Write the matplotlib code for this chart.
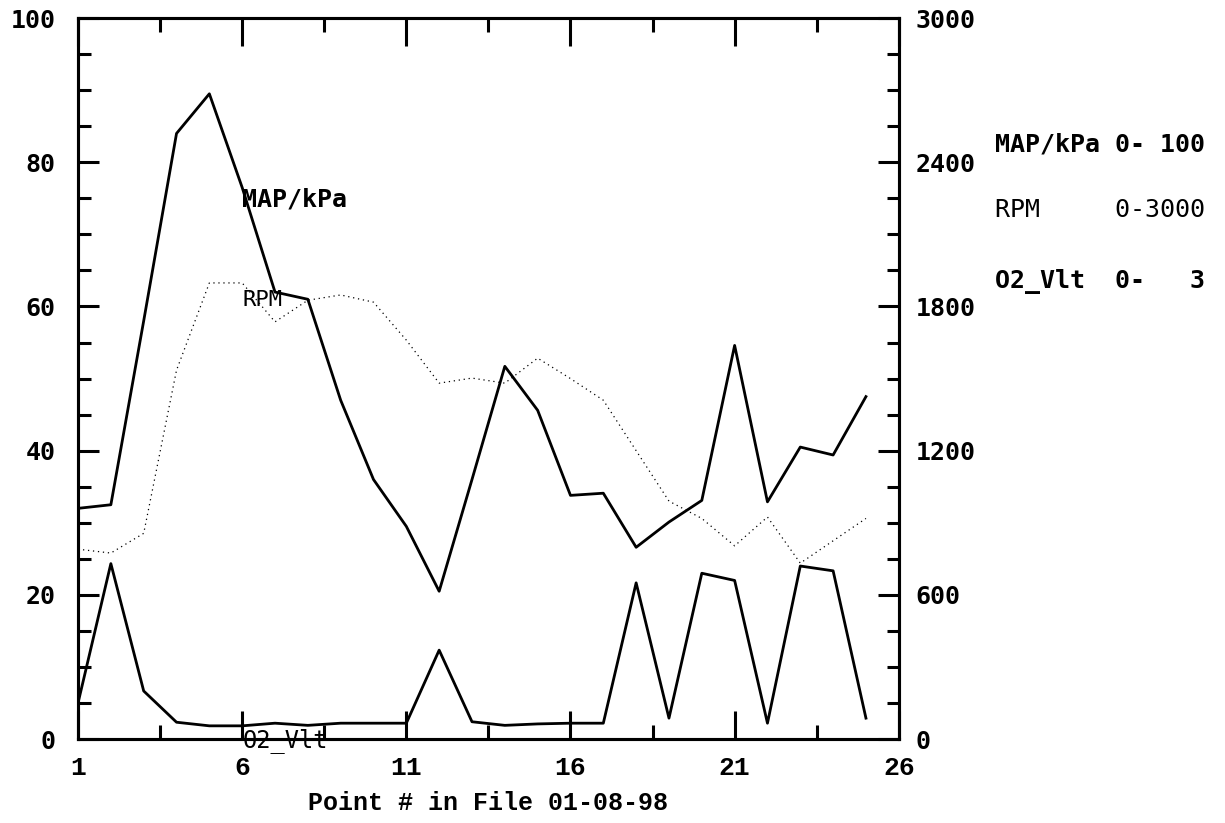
import numpy as np
import matplotlib
matplotlib.use("Agg")
import matplotlib.pyplot as plt
from matplotlib.ticker import MultipleLocator, FixedLocator

# point numbers in the log file
points = list(range(1, 26))

# manifold pressure, kPa (left scale 0-100)
map_kpa = [32, 32.5, 58, 84, 89.5, 76.5, 62, 61, 47, 36, 29.5, 20.5, 36,
           51.7, 45.6, 33.8, 34.1, 26.6, 30.1, 33.1, 54.6, 32.9, 40.5, 39.4, 47.5]

# engine speed, rpm (right scale 0-3000)
rpm = [790, 774, 856, 1535, 1898, 1898, 1736, 1826, 1848, 1818, 1660, 1481, 1502,
       1481, 1585, 1500, 1410, 1200, 990, 918, 804, 924, 732, 825, 918]

# oxygen sensor, volts (scale 0-3)
o2_vlt = [0.15, 0.73, 0.20, 0.07, 0.055, 0.055, 0.066, 0.057, 0.066, 0.066, 0.066,
          0.37, 0.072, 0.057, 0.063, 0.066, 0.066, 0.65, 0.087, 0.69, 0.66, 0.066,
          0.72, 0.70, 0.087]

legend_rows = ["MAP/kPa 0- 100", "RPM     0-3000", "O2_Vlt  0-   3"]

mono = "DejaVu Sans Mono"
serif_mono = "Liberation Mono"

fig = plt.figure(figsize=(12.25, 8.23), dpi=100)
ax = fig.add_axes([0.0637, 0.102, 0.670, 0.876])
ax2 = ax.twinx()

o2_scaled = [v * 100.0 / 3.0 for v in o2_vlt]
ax.plot(points, map_kpa, color="black", lw=2.0)
ax.plot(points, o2_scaled, color="black", lw=2.0)
ax2.plot(points, rpm, color="black", lw=0.9, ls=(0, (1, 3)))

ax.set_xlim(1, 26)
ax.set_ylim(0, 100)
ax2.set_ylim(0, 3000)

ax.xaxis.set_major_locator(FixedLocator([1, 6, 11, 16, 21, 26]))
ax.xaxis.set_minor_locator(FixedLocator([3.5, 8.5, 13.5, 18.5, 23.5]))
ax.yaxis.set_major_locator(MultipleLocator(20))
ax.yaxis.set_minor_locator(MultipleLocator(5))
ax2.yaxis.set_major_locator(MultipleLocator(600))
ax2.yaxis.set_minor_locator(MultipleLocator(150))

for a in (ax, ax2):
    for s in a.spines.values():
        s.set_linewidth(2.2)

ax.tick_params(axis="x", which="major", direction="in", length=20, width=2.2,
               top=True, pad=12)
ax.tick_params(axis="x", which="minor", direction="in", length=10, width=2.2, top=True)
ax.tick_params(axis="y", which="major", direction="in", length=15, width=2.2, pad=16)
ax.tick_params(axis="y", which="minor", direction="in", length=9, width=2.2)
ax2.tick_params(axis="y", which="major", direction="in", length=15, width=2.2, pad=12)
ax2.tick_params(axis="y", which="minor", direction="in", length=9, width=2.2)

for lab in ax.get_yticklabels() + ax2.get_yticklabels():
    lab.set_fontfamily(mono)
    lab.set_fontweight("bold")
    lab.set_fontsize(18)
for lab in ax.get_xticklabels():
    lab.set_fontfamily(serif_mono)
    lab.set_fontweight("bold")
    lab.set_fontsize(19)

ax.set_xlabel("Point # in File 01-08-98", fontfamily=serif_mono, fontweight="bold",
              fontsize=18, labelpad=8)

# series names written inside the plot
ax.text(6, 74.8, "MAP/kPa", fontfamily=mono, fontweight="bold", fontsize=18,
        ha="left", va="center")
ax.text(6, 60.9, "RPM", fontfamily=mono, fontsize=16, ha="left", va="center")
ax.text(6, -0.2, "O2_Vlt", fontfamily=mono, fontsize=17, ha="left", va="center")

# scale legend on the right
ys = [145, 210, 282]
weights = ["bold", "normal", "bold"]
for row, y, w in zip(legend_rows, ys, weights):
    fig.text(995 / 1225, 1 - y / 823, row, fontfamily=mono, fontweight=w,
             fontsize=18, ha="left", va="center")

fig.savefig("out.png", dpi=100)
